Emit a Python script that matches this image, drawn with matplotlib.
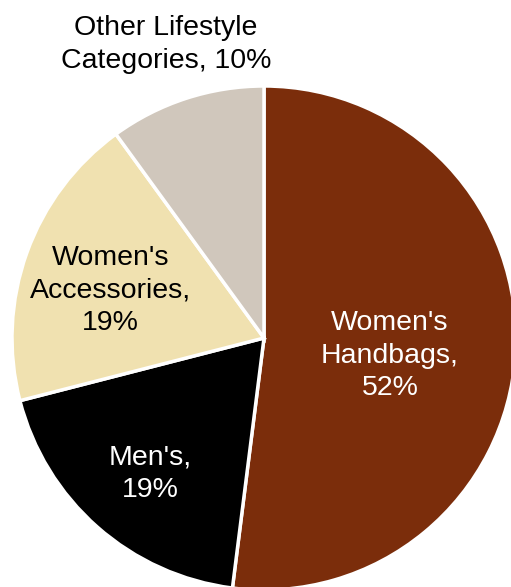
import matplotlib.pyplot as plt

plt.rcParams['font.family'] = ['Liberation Sans', 'DejaVu Sans']

labels = ["Women's\nHandbags,\n52%", "Men's,\n19%", "Women's\nAccessories,\n19%", "Other Lifestyle\nCategories, 10%"]
shares = [52, 19, 19, 10]
colors = ["#7B2D0B", "#000000", "#F0E1B0", "#D0C7BC"]
text_colors = ["white", "white", "black", "black"]
# label anchor points in pie (data) coords
label_pos = [(0.50, -0.07), (-0.45, -0.54), (-0.61, 0.19), (-0.39, 1.165)]

fig = plt.figure(figsize=(5.11, 5.87), dpi=100)
ax = fig.add_axes([12 / 511, -3 / 587, 504 / 511, 504 / 587])
ax.pie(shares, colors=colors, startangle=90, counterclock=False,
       wedgeprops={"edgecolor": "white", "linewidth": 2.5})
for lab, (x, y), c in zip(labels, label_pos, text_colors):
    ax.text(x, y, lab, color=c, fontsize=20.5, ha="center", va="center", linespacing=1.32)
ax.set_xlim(-1, 1)
ax.set_ylim(-1, 1)
ax.set_aspect("equal")
ax.axis("off")
fig.savefig("out.png", dpi=100)
